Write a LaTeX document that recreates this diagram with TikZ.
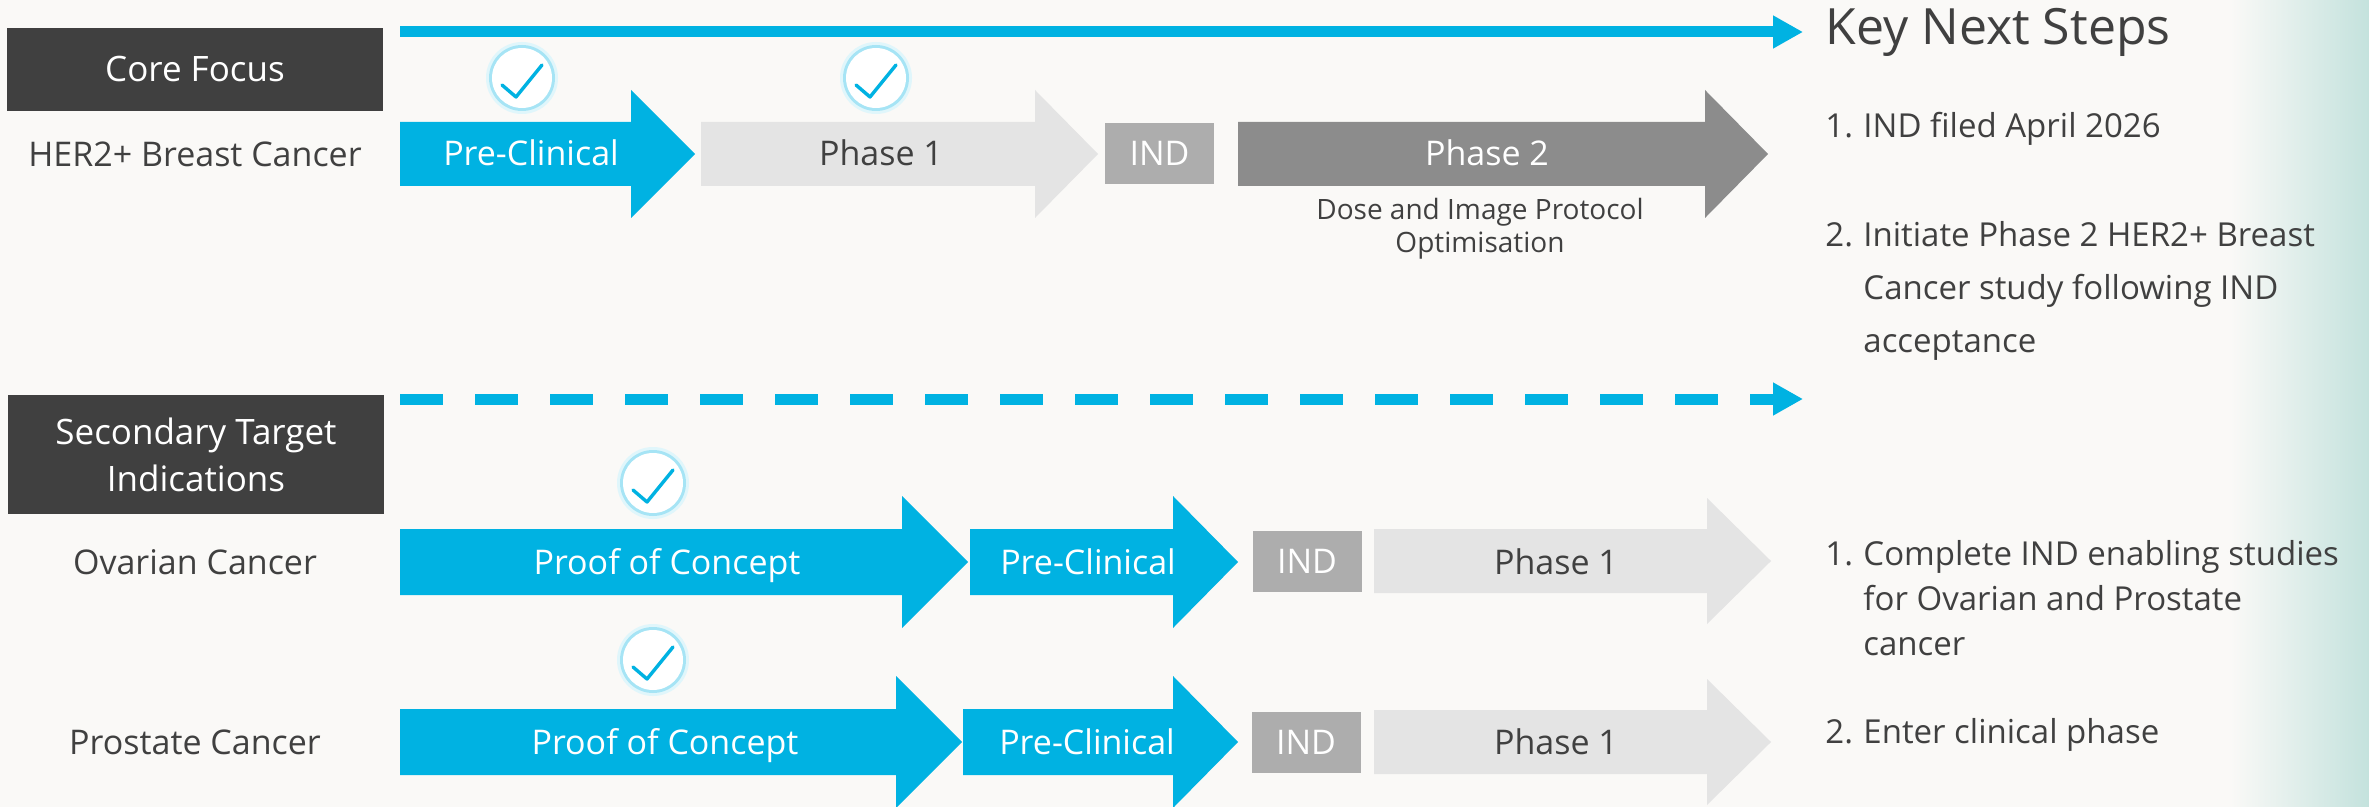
\documentclass[tikz,border=0pt]{standalone}
\usepackage{fontspec}
\setmainfont{Open Sans}
\usepackage{tikz}
\usepackage{xcolor}
\usetikzlibrary{arrows.meta}

\definecolor{bgc}{HTML}{FAF9F7}
\definecolor{procyan}{HTML}{00B2E2}
\definecolor{darkbox}{HTML}{404040}
\definecolor{txtgrey}{HTML}{404040}
\definecolor{lightarrow}{HTML}{E4E4E4}
\definecolor{indgrey}{HTML}{ADADAD}
\definecolor{ptwogrey}{HTML}{8C8C8C}
\definecolor{tealwash}{HTML}{C4E2DD}

\newcommand{\stagearrow}[7]{%
  \fill[#1] (#2,#5-#6) -- (#3,#5-#6) -- (#3,#5-#7) -- (#4,#5)
    -- (#3,#5+#7) -- (#3,#5+#6) -- (#2,#5+#6) -- cycle;}

\tikzset{
  capc/.style={text height=12pt, text depth=0pt},
  lbl/.style={capc, text=txtgrey, font=\fontsize{17}{20}\selectfont, inner sep=0pt},
  ontxt/.style={capc, text=white, font=\fontsize{17}{20}\selectfont, inner sep=0pt},
  grytxt/.style={capc, text=txtgrey, font=\fontsize{17}{20}\selectfont, inner sep=0pt},
  hdrbox/.style={fill=darkbox, text=white, font=\fontsize{17.5}{23.5}\selectfont,
    minimum width=188pt, inner sep=0pt, align=center},
  indbox/.style={capc, fill=indgrey, text=white, font=\fontsize{17}{20}\selectfont,
    minimum width=54.5pt, minimum height=30.5pt, inner sep=0pt},
  stepline/.style={procyan, line width=5.5pt, -{Triangle[length=15pt,width=15.5pt]}},
  steptxt/.style={text=txtgrey, font=\fontsize{16.5}{26}\selectfont, inner sep=0pt, anchor=base west},
  donemark/.pic={
    \fill[procyan!12] (0,0) circle (36);
    \fill[procyan!35] (0,0) circle (33);
    \fill[white] (0,0) circle (30);
    \draw[procyan, line width=1.7pt, line cap=round, line join=round]
      (-20,7) -- (-6,19) -- (20,-13);
  }
}

\begin{document}
\begin{tikzpicture}[x=0.5pt, y=-0.5pt]
  \useasboundingbox (0,0) rectangle (2369,807);
  \clip (0,0) rectangle (2369,807);
  \fill[bgc] (0,0) rectangle (2369,807);
  \shade[left color=bgc, right color=tealwash] (2230,0) rectangle (2369,807);

  % timelines
  \coordinate (tl0) at (400,32);
  \coordinate (tl1) at (1803,32);
  \draw[stepline] (tl0) -- (tl1);
  \coordinate (dl0) at (400,399);
  \coordinate (dl1) at (1803,399);
  \draw[stepline, dash pattern=on 21.5pt off 16pt] (dl0) -- (dl1);

  % core focus
  \node[hdrbox, capc, minimum height=41.5pt] (core) at (195,69.5) {Core Focus};
  \node[lbl] (her2) at (195,155) {HER2+ Breast Cancer};

  \pic (ck1) at (522,78) {donemark};
  \pic (ck2) at (876,78) {donemark};

  \stagearrow{procyan}{400}{631}{695}{154}{32}{64}
  \node[ontxt] (pre1) at (531,154) {Pre-Clinical};
  \stagearrow{lightarrow}{701}{1035}{1098}{154}{32}{64}
  \node[grytxt] (ph1a) at (881,154) {Phase 1};
  \node[indbox] (ind1) at (1159.5,153.5) {IND};
  \stagearrow{ptwogrey}{1238}{1705}{1768}{154}{32}{64}
  \node[ontxt] (ph2) at (1487,154) {Phase 2};
  \node[text=txtgrey, font=\fontsize{14}{16.5}\selectfont, align=center, inner sep=0pt]
    (dose) at (1480,229) {Dose and Image Protocol\\Optimisation};

  % secondary targets
  \node[hdrbox, minimum height=59.5pt] (sec) at (196,454.5) {Secondary Target\\Indications};
  \node[lbl] (ovar) at (195,562) {Ovarian Cancer};
  \node[lbl] (prost) at (195,742) {Prostate Cancer};

  \pic (ck3) at (653,483) {donemark};
  \pic (ck4) at (653,660) {donemark};

  \stagearrow{procyan}{400}{902}{968}{562}{33}{66}
  \node[ontxt] (poc1) at (667,562) {Proof of Concept};
  \stagearrow{procyan}{970}{1173}{1238}{562}{33}{66}
  \node[ontxt] (pre2) at (1088,562) {Pre-Clinical};
  \node[indbox] (ind2) at (1307,561.5) {IND};
  \stagearrow{lightarrow}{1374}{1707}{1771}{561}{32}{63}
  \node[grytxt] (ph1b) at (1556,562) {Phase 1};

  \stagearrow{procyan}{400}{896}{962}{742}{33}{66}
  \node[ontxt] (poc2) at (665,742) {Proof of Concept};
  \stagearrow{procyan}{963}{1173}{1238}{742}{33}{66}
  \node[ontxt] (pre3) at (1087,742) {Pre-Clinical};
  \node[indbox] (ind3) at (1306,742.5) {IND};
  \stagearrow{lightarrow}{1374}{1707}{1771}{742}{32}{63}
  \node[grytxt] (ph1c) at (1556,742) {Phase 1};

  % next steps
  \node[text=txtgrey, font=\fontsize{25}{30}\selectfont, inner sep=0pt, anchor=base west]
    (kns) at (1825,45) {Key Next Steps};
  \node[steptxt] (ka1) at (1825,138) {1.};
  \node[steptxt] (kb1) at (1863,138) {IND filed April 2026};
  \node[steptxt] (ka2) at (1825,247) {2.};
  \node[steptxt] (kb2) at (1863,247) {Initiate Phase 2 HER2+ Breast};
  \node[steptxt] (kb3) at (1863,300) {Cancer study following IND};
  \node[steptxt] (kb4) at (1863,352) {acceptance};

  \node[steptxt] (kc1) at (1825,565) {1.};
  \node[steptxt] (kd1) at (1863,565) {Complete IND enabling studies};
  \node[steptxt] (kd2) at (1863,610) {for Ovarian and Prostate};
  \node[steptxt] (kd3) at (1863,655) {cancer};
  \node[steptxt] (kc2) at (1825,743) {2.};
  \node[steptxt] (kd4) at (1863,743) {Enter clinical phase};
\end{tikzpicture}
\end{document}
